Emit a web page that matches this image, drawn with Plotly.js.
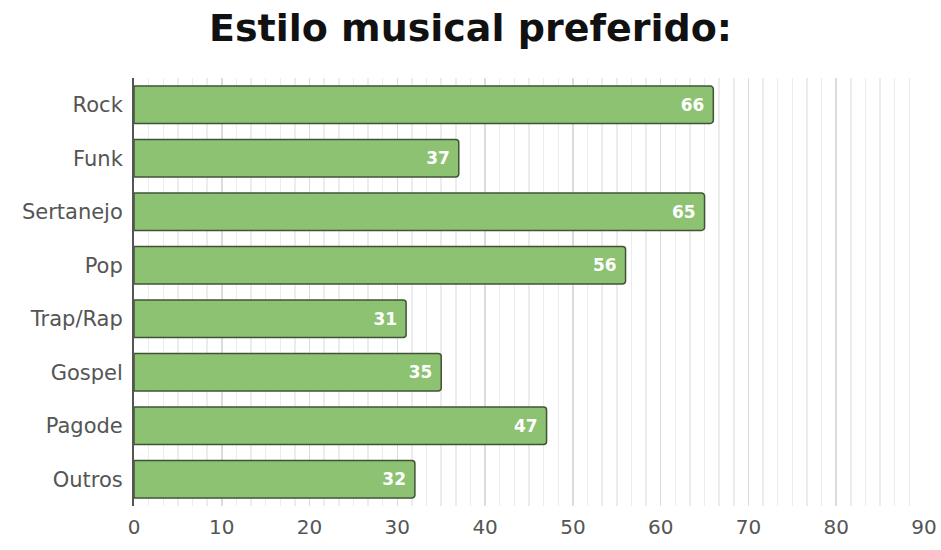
<!DOCTYPE html>
<html>
<head>
<meta charset="utf-8">
<script src="https://cdn.plot.ly/plotly-3.0.1.min.js"></script>
<style>html,body{margin:0;padding:0;background:#fff;}#chart{width:941px;height:550px;}</style>
</head>
<body>
<div id="chart"></div>
<script>
const categories = ["Rock", "Funk", "Sertanejo", "Pop", "Trap/Rap", "Gospel", "Pagode", "Outros"];
const values = [66, 37, 65, 56, 31, 35, 47, 32];
const xTicks = [0, 10, 20, 30, 40, 50, 60, 70, 80, 90];

const trace = {
  type: "bar",
  orientation: "h",
  y: categories,
  x: values,
  text: values.map(v => String(v) + "\u00a0"),
  textposition: "inside",
  insidetextanchor: "end",
  textfont: {family: "DejaVu Sans, Verdana, sans-serif", size: 17, color: "#ffffff", weight: "bold"},
  marker: {color: "#8cc271", line: {color: "#3f5437", width: 1.5}, cornerradius: 3},
  hoverinfo: "none",
  cliponaxis: false
};

const layout = {
  width: 941, height: 550,
  margin: {l: 134, r: 17, t: 78, b: 44, pad: 0},
  paper_bgcolor: "#ffffff",
  plot_bgcolor: "#ffffff",
  title: {text: "Estilo musical preferido:", x: 0.5, xanchor: "center", y: 0.95, yanchor: "middle",
          font: {family: "DejaVu Sans, Verdana, sans-serif", size: 38, color: "#111111", weight: "bold"}},
  bargap: 0.3,
  showlegend: false,
  xaxis: {
    range: [0, 90], tickvals: xTicks, ticktext: xTicks.map(String),
    showgrid: true, gridcolor: "#dcdcdc", gridwidth: 1.5,
    minor: {dtick: 10/6, showgrid: true, gridcolor: "#ececec", gridwidth: 1.5},
    zeroline: false, showline: false, ticks: "",
    ticklabelstandoff: 7,
    tickfont: {family: "DejaVu Sans, Verdana, sans-serif", size: 20, color: "#555555"},
    fixedrange: true
  },
  yaxis: {
    categoryorder: "array", categoryarray: categories, autorange: "reversed",
    showline: true, linecolor: "#555555", linewidth: 2, ticks: "", showgrid: false,
    tickfont: {family: "DejaVu Sans, Verdana, sans-serif", size: 21, color: "#555555"},
    ticklabelstandoff: 5,
    fixedrange: true
  }
};

Plotly.newPlot("chart", [trace], layout, {displayModeBar: false, staticPlot: true});
</script>
</body>
</html>
